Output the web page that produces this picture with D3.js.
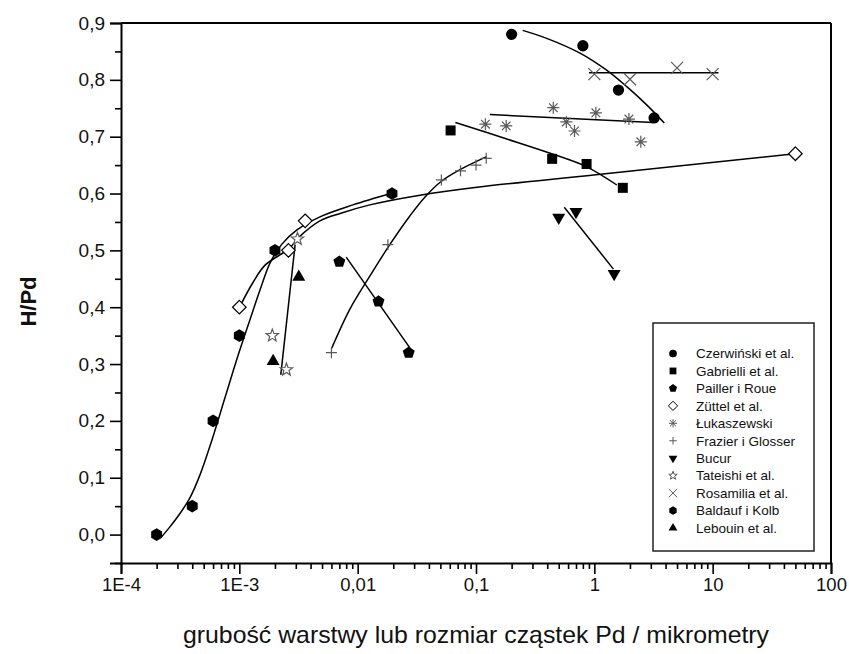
<!DOCTYPE html>
<html>
<head>
<meta charset="utf-8">
<script src="https://cdn.jsdelivr.net/npm/d3@7"></script>
<style>
  body { margin: 0; background: #fff; }
  svg { font-family: "Liberation Sans", Arial, sans-serif; }
</style>
</head>
<body>
<div id="chart"></div>
<script>
// ======= data (x: Pd thickness / particle size in micrometres, y: H/Pd) ========
var czerwinski = [[0.2, 0.88], [0.8, 0.86], [1.6, 0.782], [3.2, 0.733]];
var czerwinskiFit = [[0.248, 0.887], [0.396, 0.873], [0.757, 0.847], [1.27, 0.817], [1.88, 0.788], [2.77, 0.756], [3.9, 0.724]];

var gabrielli = [[0.061, 0.711], [0.44, 0.661], [0.86, 0.652], [1.74, 0.61]];
var gabrielliFit = [[0.067, 0.725], [0.182, 0.696], [0.436, 0.67], [0.862, 0.647], [1.55, 0.615]];

var pailler = [[0.007, 0.48], [0.015, 0.41], [0.027, 0.32]];
var paillerFit = [[0.008, 0.488], [0.0277, 0.328]];

var zuttel = [[0.001, 0.40], [0.0026, 0.50], [0.0036, 0.552], [50, 0.67]];
var zuttelFit = [[0.00101, 0.401], [0.0013, 0.443], [0.00165, 0.474], [0.00263, 0.503], [0.00326, 0.525], [0.0048, 0.552],
                 [0.0071, 0.565], [0.0127, 0.58], [0.0336, 0.597], [0.102, 0.611], [1.03, 0.633], [49.7, 0.67]];

var lukaszewski = [[0.12, 0.722], [0.18, 0.719], [0.45, 0.751], [0.58, 0.726], [0.68, 0.71], [1.03, 0.742], [1.96, 0.731], [2.47, 0.691]];
var lukaszewskiFit = [[0.131, 0.739], [3.15, 0.725]];

var frazier = [[0.006, 0.32], [0.018, 0.51], [0.051, 0.624], [0.074, 0.64], [0.1, 0.65], [0.122, 0.662]];
var frazierFit = [[0.00604, 0.328], [0.00862, 0.397], [0.0127, 0.455], [0.0188, 0.511], [0.0277, 0.561], [0.0371, 0.594],
                  [0.0513, 0.622], [0.0732, 0.642], [0.123, 0.665]];

var bucur = [[0.5, 0.558], [0.7, 0.568], [1.47, 0.459]];
var bucurFit = [[0.557, 0.576], [1.45, 0.467]];

var tateishi = [[0.0019, 0.35], [0.0025, 0.29], [0.0031, 0.52]];
var tateishiFit = [[0.00224, 0.281], [0.00296, 0.51]];

var rosamilia = [[1.0, 0.81], [2.0, 0.801], [5.0, 0.821], [10, 0.81]];
var rosamiliaFit = [[0.90, 0.8125], [11.2, 0.8125]];

var baldauf = [[0.0002, 0.0], [0.0004, 0.05], [0.0006, 0.2], [0.001, 0.35], [0.002, 0.5], [0.0195, 0.6]];
var baldaufFit = [[0.000218, -0.005], [0.00026, 0.014], [0.000315, 0.037], [0.000383, 0.065], [0.000465, 0.105],
                  [0.000588, 0.167], [0.000757, 0.241], [0.000975, 0.315], [0.00123, 0.378], [0.0015, 0.431],
                  [0.00182, 0.478], [0.00229, 0.511], [0.00307, 0.536], [0.0048, 0.559], [0.0091, 0.58], [0.0195, 0.601]];

var lebouin = [[0.00193, 0.305], [0.00318, 0.453]];

var legendNames = ["Czerwiński et al.", "Gabrielli et al.", "Pailler i Roue", "Züttel et al.", "Łukaszewski",
                   "Frazier i Glosser", "Bucur", "Tateishi et al.", "Rosamilia et al.", "Baldauf i Kolb", "Lebouin et al."];
var legendSymbols = ["circle", "square", "pentagon", "diamond", "asterisk", "plus", "triDown", "star", "cross", "hexagon", "triUp"];

var xTickValues = [1e-4, 1e-3, 1e-2, 1e-1, 1, 10, 100];
var xTickLabels = ["1E-4", "1E-3", "0,01", "0,1", "1", "10", "100"];
var yTickValues = [0, 0.1, 0.2, 0.3, 0.4, 0.5, 0.6, 0.7, 0.8, 0.9];

var xTitle = "grubość warstwy lub rozmiar cząstek Pd / mikrometry";
var yTitle = "H/Pd";

// ======= setup ========
var width = 849;
var height = 654;
var margin = {left: 121, right: 18, top: 23, bottom: 91};

var svg = d3.select("#chart")
  .append("svg")
    .attr("width", width)
    .attr("height", height);

var x = d3.scaleLog()
    .domain([1e-4, 100])
    .range([margin.left, width - margin.right]);

var y = d3.scaleLinear()
    .domain([-0.05, 0.9])
    .range([height - margin.bottom, margin.top]);

var gray = "#5a5a5a";

// ======= axes ========
var minorX = [];
for (var e = -4; e < 2; e++) {
    for (var m = 2; m < 10; m++) minorX.push(m * Math.pow(10, e));
}
var minorY = d3.range(-0.05, 0.9, 0.1);

var xAxis = svg.append("g").attr("class", "xAxis")
    .attr("transform", "translate(0," + y(-0.05) + ")")
    .call(d3.axisBottom(x).tickValues(xTickValues).tickSize(11).tickPadding(4)
        .tickFormat(function(d, i) { return xTickLabels[i]; }));
svg.append("g").attr("class", "xMinor")
    .attr("transform", "translate(0," + y(-0.05) + ")")
    .call(d3.axisBottom(x).tickValues(minorX).tickSize(6).tickFormat(""));

var yAxis = svg.append("g").attr("class", "yAxis")
    .attr("transform", "translate(" + x(1e-4) + ",0)")
    .call(d3.axisLeft(y).tickValues(yTickValues).tickSize(11).tickPadding(5)
        .tickFormat(function(d) { return d3.format(".1f")(d).replace(".", ","); }));
svg.append("g").attr("class", "yMinor")
    .attr("transform", "translate(" + x(1e-4) + ",0)")
    .call(d3.axisLeft(y).tickValues(minorY).tickSize(6).tickFormat(""));

svg.selectAll(".xMinor .domain, .yMinor .domain").remove();
svg.selectAll(".xAxis .domain, .yAxis .domain").attr("stroke-width", 2);
svg.selectAll(".tick line").attr("stroke-width", 1.6);
svg.selectAll(".xAxis text")
    .style("font-size", "18.5px")
    .attr("fill", "#111");
svg.selectAll(".yAxis text")
    .style("font-size", "19px")
    .attr("fill", "#111");

// top and right frame
svg.append("line")
    .attr("x1", x(1e-4)).attr("x2", x(100))
    .attr("y1", y(0.9)).attr("y2", y(0.9))
    .attr("stroke", "black").attr("stroke-width", 2);
svg.append("line")
    .attr("x1", x(100)).attr("x2", x(100))
    .attr("y1", y(0.9)).attr("y2", y(-0.05))
    .attr("stroke", "black").attr("stroke-width", 2);

svg.append("text")
    .attr("x", 476)
    .attr("y", 643)
    .attr("text-anchor", "middle")
    .attr("textLength", 586)
    .attr("lengthAdjust", "spacingAndGlyphs")
    .style("font-size", "24px")
    .attr("fill", "#111")
    .text(xTitle);

svg.append("text")
    .attr("transform", "translate(36," + y(0.41) + ") rotate(-90)")
    .attr("text-anchor", "middle")
    .style("font-size", "22px")
    .style("font-weight", "bold")
    .attr("fill", "#111")
    .text(yTitle);

// ======= fit lines ========
var line = d3.line()
    .x(function(d) { return x(d[0]); })
    .y(function(d) { return y(d[1]); })
    .curve(d3.curveCatmullRom.alpha(0.5));

var fits = [czerwinskiFit, gabrielliFit, paillerFit, zuttelFit, lukaszewskiFit, frazierFit,
            bucurFit, tateishiFit, rosamiliaFit, baldaufFit];

svg.append("g").attr("class", "fits")
  .selectAll("path")
    .data(fits)
  .enter().append("path")
    .attr("d", line)
    .attr("fill", "none")
    .attr("stroke", "black")
    .attr("stroke-width", 1.5);

// ======= markers ========
function poly(n, r, rot) {
    var pts = [];
    for (var i = 0; i < n; i++) {
        var a = rot + i * 2 * Math.PI / n;
        pts.push([r * Math.cos(a), r * Math.sin(a)]);
    }
    return "M" + pts.join("L") + "Z";
}

function starPath(r) {
    var pts = [];
    for (var i = 0; i < 10; i++) {
        var a = -Math.PI / 2 + i * Math.PI / 5;
        var rr = i % 2 ? r * 0.42 : r;
        pts.push([rr * Math.cos(a), rr * Math.sin(a)]);
    }
    return "M" + pts.join("L") + "Z";
}

// returns {d, fill, stroke} for a symbol at scale k
function symbol(type, k) {
    var s;
    switch (type) {
        case "circle": s = {d: d3.symbol(d3.symbolCircle, 100 * k * k)(), fill: "black", stroke: "none"}; break;
        case "square": s = {d: d3.symbol(d3.symbolSquare, 100 * k * k)(), fill: "black", stroke: "none"}; break;
        case "pentagon": s = {d: poly(5, 6.3 * k, -Math.PI / 2), fill: "black", stroke: "none"}; break;
        case "hexagon": s = {d: poly(6, 6.3 * k, -Math.PI / 2), fill: "black", stroke: "none"}; break;
        case "diamond": s = {d: poly(4, 6.8 * k, -Math.PI / 2), fill: "white", stroke: "black"}; break;
        case "triUp": s = {d: poly(3, 7.5 * k, -Math.PI / 2), fill: "black", stroke: "none"}; break;
        case "triDown": s = {d: poly(3, 7.5 * k, Math.PI / 2), fill: "black", stroke: "none"}; break;
        case "star": s = {d: starPath(6.5 * k), fill: "white", stroke: gray}; break;
        case "plus": var p = 5.5 * k;
            s = {d: "M" + -p + ",0H" + p + "M0," + -p + "V" + p, fill: "none", stroke: gray}; break;
        case "cross": var c = 6 * k;
            s = {d: "M" + -c + "," + -c + "L" + c + "," + c + "M" + -c + "," + c + "L" + c + "," + -c, fill: "none", stroke: gray}; break;
        case "asterisk": var a = 6 * k, b = 4.3 * k;
            s = {d: "M" + -a + ",0H" + a + "M0," + -a + "V" + a + "M" + -b + "," + -b + "L" + b + "," + b + "M" + -b + "," + b + "L" + b + "," + -b,
                 fill: "none", stroke: gray}; break;
    }
    return s;
}

var seriesData = [czerwinski, gabrielli, pailler, zuttel, lukaszewski, frazier, bucur, tateishi, rosamilia, baldauf, lebouin];

seriesData.forEach(function(data, i) {
    var sym = symbol(legendSymbols[i], 1);
    svg.append("g").attr("class", "series")
      .selectAll("path")
        .data(data)
      .enter().append("path")
        .attr("transform", function(d) { return "translate(" + x(d[0]) + "," + y(d[1]) + ")"; })
        .attr("d", sym.d)
        .attr("fill", sym.fill)
        .attr("stroke", sym.stroke)
        .attr("stroke-width", 1.2);
});

// ======= legend ========
var legend = svg.append("g").attr("class", "legend");
legend.append("rect")
    .attr("x", 653).attr("y", 323)
    .attr("width", 161).attr("height", 228)
    .attr("fill", "white")
    .attr("stroke", "#222")
    .attr("stroke-width", 1.5);

var items = legend.selectAll(".item")
    .data(legendNames)
  .enter().append("g")
    .attr("class", "item")
    .attr("transform", function(d, i) { return "translate(673," + (353.5 + i * 17.45) + ")"; });

items.append("path")
    .attr("d", function(d, i) { return symbol(legendSymbols[i], 0.68).d; })
    .attr("fill", function(d, i) { return symbol(legendSymbols[i], 0.68).fill; })
    .attr("stroke", function(d, i) { return symbol(legendSymbols[i], 0.68).stroke; })
    .attr("stroke-width", 1);

items.append("text")
    .attr("x", 23)
    .attr("y", 4.8)
    .style("font-size", "13.5px")
    .attr("fill", "#111")
    .text(function(d) { return d; });
</script>
</body>
</html>
